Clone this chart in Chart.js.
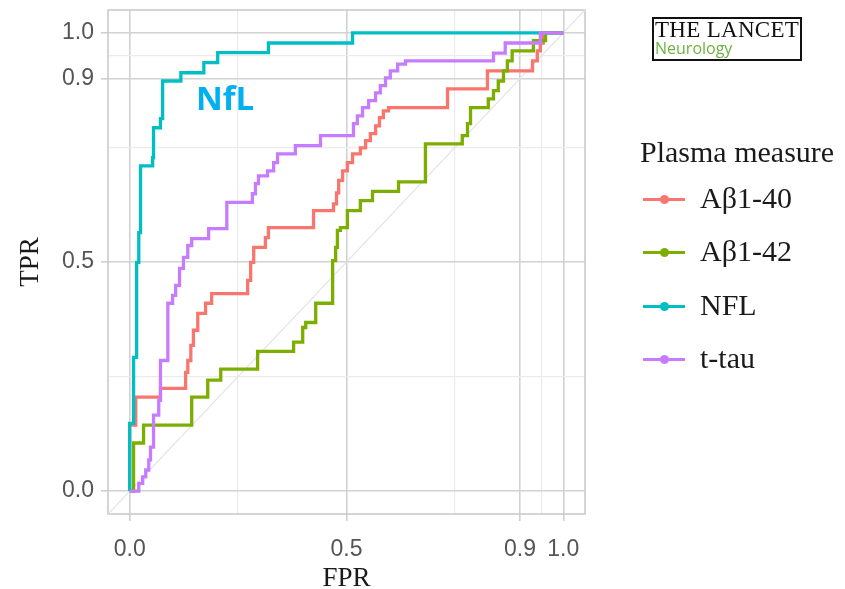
<!DOCTYPE html>
<html>
<head>
<meta charset="utf-8">
<script src="https://cdn.jsdelivr.net/npm/chart.js@4.4.1/dist/chart.umd.min.js"></script>
<style>
  html, body { margin: 0; padding: 0; background: #fff; }
  #wrap { position: relative; width: 845px; height: 589px; overflow: hidden; }
  #chart { position: absolute; left: 0; top: 0; }
  .logo { position: absolute; left: 652px; top: 17px; width: 146px; height: 40px; border: 2px solid #111; }
  .logo .t1 { position: absolute; left: 1px; top: -2px; font-family: 'Liberation Serif', serif; font-size: 23px; color: #111; white-space: nowrap; letter-spacing: 0.3px; }
  .logo .t2 { position: absolute; left: 1px; top: 18px; font-family: 'Open Sans', sans-serif; font-size: 16px; color: #6cb33f; white-space: nowrap; }
  .nfl { position: absolute; left: 196px; top: 75px; font-family: 'Open Sans', sans-serif; font-weight: bold; font-size: 33px; color: #00b0f0; }
  #legend { position: absolute; left: 640px; top: 0; font-family: 'Liberation Serif', serif; color: #1a1a1a; }
  #legend .title { position: absolute; left: 0; top: 135px; font-size: 30px; white-space: nowrap; }
  #legend .item { position: absolute; left: 3px; height: 30px; white-space: nowrap; }
  #legend .key { position: absolute; left: 0; top: 14px; width: 42px; height: 3px; }
  #legend .key i { position: absolute; left: 17px; top: -3px; width: 9px; height: 9px; border-radius: 50%; }
  #legend .lab { position: absolute; left: 57px; top: -3px; font-size: 30px; }
</style>
</head>
<body>
<div id="wrap">
  <canvas id="chart" width="845" height="589"></canvas>
  <div class="nfl">NfL</div>
  <div class="logo"><span class="t1">THE LANCET</span><span class="t2">Neurology</span></div>
  <div id="legend"></div>
</div>
<script>
const measures = ['Aβ1-40', 'Aβ1-42', 'NFL', 't-tau'];
const colors = ['#F8766D', '#7CAE00', '#00BFC4', '#C77CFF'];

// ROC points (FPR, TPR)
const ab40Fpr = [0, 0.014, 0.071, 0.129, 0.134, 0.141, 0.147, 0.157, 0.175, 0.189, 0.272, 0.279, 0.286, 0.313, 0.320, 0.424, 0.470, 0.477, 0.482, 0.491, 0.502, 0.514, 0.532, 0.544, 0.555, 0.567, 0.576, 0.585, 0.597, 0.733, 0.825, 0.929, 0.940, 0.947, 0.954, 1.0];
const ab40Tpr = [0, 0.144, 0.205, 0.224, 0.259, 0.285, 0.318, 0.351, 0.388, 0.410, 0.431, 0.460, 0.499, 0.532, 0.553, 0.575, 0.612, 0.627, 0.651, 0.678, 0.699, 0.717, 0.736, 0.749, 0.765, 0.780, 0.797, 0.815, 0.830, 0.837, 0.878, 0.917, 0.939, 0.961, 0.978, 1.0];

const ab42Fpr = [0, 0.009, 0.032, 0.143, 0.180, 0.210, 0.295, 0.378, 0.399, 0.406, 0.429, 0.468, 0.475, 0.479, 0.486, 0.502, 0.532, 0.560, 0.620, 0.682, 0.767, 0.779, 0.786, 0.827, 0.839, 0.850, 0.862, 0.871, 0.882, 0.931, 0.959, 1.0];
const ab42Tpr = [0, 0, 0.105, 0.144, 0.205, 0.242, 0.266, 0.305, 0.325, 0.357, 0.368, 0.410, 0.503, 0.532, 0.569, 0.575, 0.612, 0.634, 0.654, 0.675, 0.758, 0.776, 0.802, 0.837, 0.856, 0.874, 0.895, 0.917, 0.939, 0.961, 0.983, 1.0];

const nflFpr = [0, 0.009, 0.016, 0.021, 0.025, 0.053, 0.055, 0.071, 0.076, 0.118, 0.171, 0.203, 0.320, 0.514, 1.0];
const nflTpr = [0, 0.148, 0.292, 0.499, 0.564, 0.710, 0.728, 0.793, 0.813, 0.895, 0.913, 0.935, 0.957, 0.978, 1.0];

const ttauFpr = [0, 0.021, 0.030, 0.037, 0.044, 0.048, 0.055, 0.067, 0.071, 0.088, 0.099, 0.106, 0.115, 0.124, 0.134, 0.143, 0.182, 0.224, 0.283, 0.290, 0.297, 0.318, 0.332, 0.341, 0.382, 0.440, 0.516, 0.525, 0.537, 0.551, 0.567, 0.578, 0.590, 0.601, 0.618, 0.636, 0.839, 0.866, 0.947, 1.0];
const ttauTpr = [0, 0, 0.017, 0.031, 0.046, 0.068, 0.096, 0.166, 0.198, 0.285, 0.410, 0.427, 0.449, 0.486, 0.510, 0.536, 0.551, 0.573, 0.630, 0.649, 0.671, 0.688, 0.699, 0.717, 0.736, 0.754, 0.776, 0.802, 0.819, 0.837, 0.852, 0.869, 0.885, 0.902, 0.917, 0.932, 0.939, 0.956, 0.978, 1.0];

const majorTicks = [0, 0.5, 0.9, 1.0];
const minorTicks = [0.25, 0.75, 0.95];
const tickLabels = ['0.0', '0.5', '0.9', '1.0'];
const refLine = [-0.05, 1.05];

const series = [
  [ab40Fpr, ab40Tpr],
  [ab42Fpr, ab42Tpr],
  [nflFpr, nflTpr],
  [ttauFpr, ttauTpr]
];

const toPoints = (xs, ys) => xs.map((x, i) => ({ x: x, y: ys[i] }));

const datasets = series.map((s, i) => ({
  label: measures[i],
  data: toPoints(s[0], s[1]),
  borderColor: colors[i],
  borderWidth: 3.3,
  pointRadius: 0,
  showLine: true,
  stepped: 'after',
  order: 3 - i
}));
datasets.push({
  label: 'ref',
  data: toPoints(refLine, refLine),
  borderColor: '#e2e2e2',
  borderWidth: 1.2,
  pointRadius: 0,
  showLine: true,
  order: 10
});

const isMajor = v => majorTicks.some(t => Math.abs(t - v) < 1e-9);
const allTicks = majorTicks.concat(minorTicks).sort((a, b) => a - b);

function axis(title, isX) {
  return {
    type: 'linear',
    min: -0.05,
    max: 1.05,
    afterBuildTicks: s => { s.ticks = allTicks.map(v => ({ value: v })); },
    afterFit: s => {
      if (isX) s.height = 75; else s.width = 108;
      s.paddingTop = 0; s.paddingBottom = 0; s.paddingLeft = 0; s.paddingRight = 0;
    },
    ticks: {
      autoSkip: false,
      maxRotation: 0,
      padding: isX ? 15 : 7,
      color: '#555',
      font: { family: 'Liberation Sans', size: 23 },
      callback: v => isMajor(v) ? tickLabels[majorTicks.findIndex(t => Math.abs(t - v) < 1e-9)] : ''
    },
    grid: {
      color: c => isMajor(c.tick.value) ? '#d2d2d2' : '#ececec',
      lineWidth: c => isMajor(c.tick.value) ? 1.6 : 1.2,
      tickColor: c => isMajor(c.tick.value) ? '#cfcfcf' : 'rgba(0,0,0,0)',
      tickLength: 7
    },
    border: { display: false },
    title: {
      display: true,
      text: title,
      color: '#1a1a1a',
      font: { family: 'Liberation Serif', size: 27, lineHeight: 1 },
      padding: isX ? { top: 0, bottom: -3 } : { top: 17, bottom: 0 }
    }
  };
}

const panelBorder = {
  id: 'panelBorder',
  beforeDatasetsDraw(chart) {
    const { ctx, chartArea: a } = chart;
    ctx.save();
    ctx.strokeStyle = '#cbcbcb';
    ctx.lineWidth = 1.6;
    ctx.strokeRect(a.left, a.top, a.right - a.left, a.bottom - a.top);
    ctx.restore();
  }
};

new Chart(document.getElementById('chart'), {
  type: 'scatter',
  data: { datasets: datasets },
  options: {
    responsive: false,
    animation: false,
    layout: { padding: { left: 0, right: 260, top: 10, bottom: 0 } },
    plugins: { legend: { display: false }, tooltip: { enabled: false } },
    scales: { x: axis('FPR', true), y: axis('TPR', false) }
  },
  plugins: [panelBorder]
});

// legend
const legend = document.getElementById('legend');
legend.innerHTML = '<div class="title">Plasma measure</div>' + measures.map((m, i) =>
  '<div class="item" style="top:' + (184 + i * 53.3) + 'px">' +
  '<div class="key" style="background:' + colors[i] + '"><i style="background:' + colors[i] + '"></i></div>' +
  '<div class="lab">' + m + '</div></div>').join('');
</script>
</body>
</html>
